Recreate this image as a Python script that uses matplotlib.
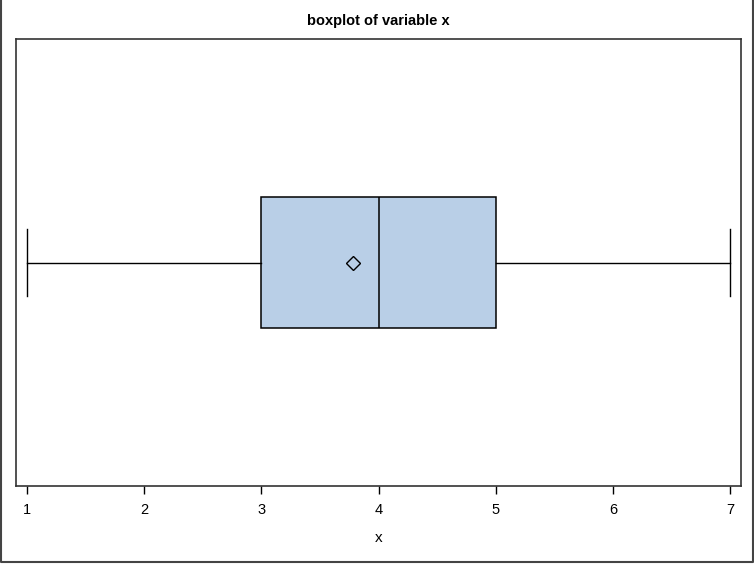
import matplotlib
matplotlib.use("Agg")
import matplotlib.pyplot as plt
from matplotlib.lines import Line2D

plt.rcParams['font.family'] = ['Liberation Sans', 'DejaVu Sans']

# summary statistics
x_min, x_q1, x_med, x_q3, x_max = 1, 3, 4, 5, 7
x_mean = 3.78
ticks = [1, 2, 3, 4, 5, 6, 7]

stats = [dict(whislo=x_min, q1=x_q1, med=x_med, q3=x_q3, whishi=x_max,
              mean=x_mean, fliers=[], label="x")]

W, H = 754, 564
fig = plt.figure(figsize=(W / 100, H / 100), dpi=100)
ax = fig.add_axes([16 / W, 1 - 486 / H, (741 - 16) / W, (486 - 39) / H])

ax.bxp(stats, vert=False, widths=0.295, showmeans=True, patch_artist=True,
       boxprops=dict(facecolor="#B9CFE7", edgecolor="black", linewidth=1.1),
       medianprops=dict(color="black", linewidth=1.1),
       whiskerprops=dict(color="black", linewidth=1.0),
       capprops=dict(color="black", linewidth=1.0),
       capwidths=0.148,
       meanprops=dict(marker="D", markerfacecolor="none", markeredgecolor="black",
                      markersize=7, markeredgewidth=1.0))

ax.set_ylim(0.5, 1.5)
ax.set_xlim(1 - 11 / 117.2, 7 + 11 / 117.2)
ax.set_yticks([])
ax.set_xticks(ticks)
ax.set_xticklabels([str(t) for t in ticks], fontsize=10.5)
ax.tick_params(axis="x", direction="out", length=6, width=1, pad=6)
for s in ax.spines.values():
    s.set_linewidth(1.2)
    s.set_color("#333333")

ax.set_xlabel("x", fontsize=11, labelpad=10)
ax.set_title("boxplot of variable x", fontsize=10.5, fontweight="bold", pad=10)

# outer frame: left, bottom, right
px, py = 1 / W, 1 / H
fig.lines.append(Line2D([px, px, 1 - 1.5 * px, 1 - 1.5 * px],
                        [1, 2 * py, 2 * py, 1],
                        transform=fig.transFigure, color="#444444", linewidth=1.5))

fig.savefig("out.png", dpi=100)
